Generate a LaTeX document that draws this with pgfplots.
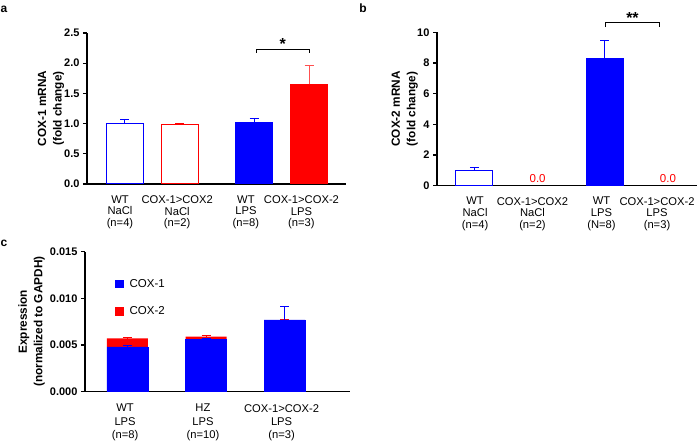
\documentclass[border=0pt]{standalone}
\usepackage{fontspec}
\setmainfont{Liberation Sans}
\usepackage{pgfplots}
\pgfplotsset{compat=1.18}

\definecolor{myblue}{RGB}{0,0,255}
\definecolor{myred}{RGB}{255,0,0}
\definecolor{lightred}{RGB}{255,80,80}

\pgfplotsset{
  panel/.style={
    scale only axis,
    axis lines*=left,
    axis line style={line width=1.3pt},
    ybar, bar shift=0pt,
    tick align=outside,
    ytick style={black, line width=1.3pt},
    major tick length=4pt,
    xtick style={draw=none},
    /pgf/number format/assume math mode=true,
    yticklabel style={font=\fontsize{11}{12}\selectfont\bfseries},
    xticklabel style={font=\fontsize{11.2}{11.7}\selectfont, align=center, yshift=-4pt},
    ylabel style={font=\fontsize{11.8}{15.5}\selectfont\bfseries, align=center, anchor=center},
    ymin=0,
    clip=false,
    scaled y ticks=false,
  },
  eb/.style={error bars/.cd, y dir=plus, y explicit,
    error bar style={line width=1pt, #1},
    error mark options={#1, rotate=90, mark size=4.5pt, line width=1pt}},
}

\begin{document}
\begin{tikzpicture}
\useasboundingbox (0,0) rectangle (699pt,441pt);

% panel labels
\node[font=\fontsize{12}{12}\selectfont\bfseries] at (4pt,432pt) {a};
\node[font=\fontsize{12}{12}\selectfont\bfseries] at (363pt,433pt) {b};
\node[font=\fontsize{12}{12}\selectfont\bfseries] at (4pt,198pt) {c};

% ---------- panel a ----------
\begin{axis}[panel,
  at={(87pt,257pt)}, anchor=south west,
  width=259pt, height=151pt,
  xmin=-0.69, xmax=4.02,
  ymax=2.5, ytick={0,0.5,1,1.5,2,2.5},
  yticklabel style={/pgf/number format/.cd, fixed, fixed zerofill, precision=1},
  xtick={-0.09,0.95,2.2,3.21},
  xticklabels={WT\\NaCl\\(n=4), COX-1>COX2\\NaCl\\(n=2), WT\\LPS\\(n=8), COX-1>COX-2\\LPS\\(n=3)},
  ylabel={COX-1 mRNA\\(fold change)},
  ylabel style={at={(axis description cs:-0.139,0.5)}},
  bar width=37pt,
]
\addplot[draw=myblue, fill=white, line width=1pt, eb=myblue] coordinates {(0,1.00) +- (0,0.06)};
\addplot[draw=myred, fill=white, line width=1pt, eb=myred] coordinates {(1,0.99) +- (0,0.01)};
\addplot[draw=myblue, fill=myblue, line width=1pt, eb=myblue] coordinates {(2.35,1.02) +- (0,0.06)};
\addplot[draw=myred, fill=myred, line width=1pt, eb=lightred] coordinates {(3.35,1.65) +- (0,0.32)};
\draw[line width=0.8pt] (axis cs:2.39,2.17) -- (axis cs:2.39,2.23) -- (axis cs:3.36,2.23) -- (axis cs:3.36,2.17);
\node[font=\fontsize{16}{16}\selectfont\bfseries] at (axis cs:2.87,2.31) {*};
\end{axis}

% ---------- panel b ----------
\begin{axis}[panel,
  at={(437pt,255.3pt)}, anchor=south west,
  width=260pt, height=153.4pt,
  xmin=-0.58, xmax=3.45,
  ymax=10, ytick={0,2,4,6,8,10},
  xtick={0.01,0.90,1.97,2.83},
  xticklabels={WT\\NaCl\\(n=4), COX-1>COX2\\NaCl\\(n=2), WT\\LPS\\(N=8), COX-1>COX-2\\LPS\\(n=3)},
  ylabel={COX-2 mRNA\\(fold change)},
  ylabel style={at={(axis description cs:-0.124,0.5)}},
  bar width=37pt,
]
\addplot[draw=myblue, fill=white, line width=1pt, eb=myblue] coordinates {(0,1.00) +- (0,0.21)};
\addplot[draw=none, fill=none, nodes near coords,
  nodes near coords style={text=myred, font=\fontsize{11.5}{12}\selectfont, /pgf/number format/.cd, fixed, fixed zerofill, precision=1}]
  coordinates {(0.98,0) (3.0,0)};
\addplot[draw=myblue, fill=myblue, line width=1pt, eb=myblue] coordinates {(2.02,8.27) +- (0,1.21)};
\draw[line width=0.8pt] (axis cs:2.03,10.33) -- (axis cs:2.03,10.65) -- (axis cs:2.86,10.65) -- (axis cs:2.86,10.33);
\node[font=\fontsize{16}{16}\selectfont\bfseries] at (axis cs:2.45,10.95) {**};
\end{axis}

% ---------- panel c ----------
\begin{axis}[panel, ybar stacked,
  at={(85pt,49.3pt)}, anchor=south west,
  width=265pt, height=140pt,
  xmin=-0.54, xmax=2.83,
  ymax=0.015, ytick={0,0.005,0.010,0.015},
  yticklabel style={/pgf/number format/.cd, fixed, fixed zerofill, precision=3},
  xtick={-0.03,0.96,1.96},
  xticklabels={WT\\LPS\\(n=8), HZ\\LPS\\(n=10), COX-1>COX-2\\LPS\\(n=3)},
  xticklabel style={font=\fontsize{11.2}{13.2}\selectfont, yshift=-1pt},
  ylabel={Expression\\(normalized to GAPDH)},
  ylabel style={at={(axis description cs:-0.202,0.5)}},
  bar width=41pt,
  legend style={draw=none, fill=none, at={(rel axis cs:0.113,0.82)}, anchor=north west,
    font=\fontsize{11.5}{12}\selectfont, row sep=14pt, inner sep=0pt},
  legend cell align=left,
  legend image code/.code={\path[draw=none, fill=none] (0pt,0pt) -- (12.5pt,0pt);\fill[#1, draw=none] (0pt,-4.2pt) rectangle (8.5pt,4.2pt);},
]
\addplot[fill=myblue, draw=myblue, eb=myblue] coordinates {(0,0.0048) +- (0,0.0002) (1,0.0056) +- (0,0.00005) (2,0.0077) +- (0,0.0014)};
\addplot[fill=myred, draw=none, eb=myred] coordinates {(0,0.0009) +- (0,0.0001) (1,0.0003) +- (0,0.00008) (2,0) +- (0,0)};
\legend{COX-1, COX-2}
\end{axis}
\end{tikzpicture}
\end{document}
